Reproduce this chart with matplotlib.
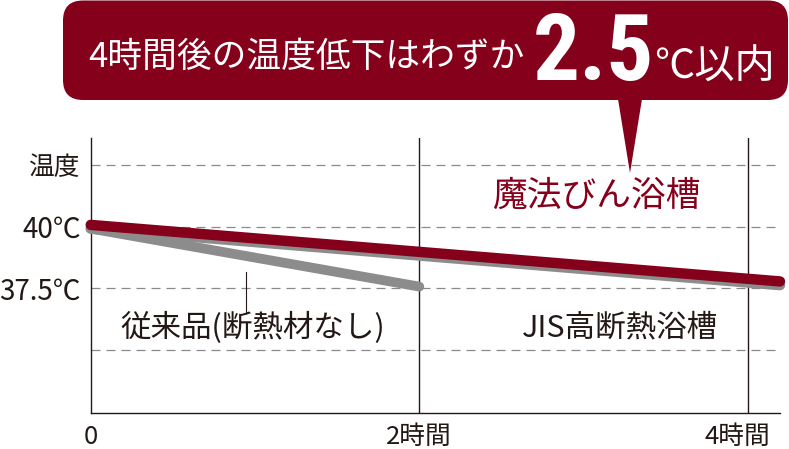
import matplotlib.pyplot as plt
from matplotlib import font_manager
from matplotlib.patches import FancyBboxPatch, Polygon
from matplotlib.transforms import ScaledTranslation

# data (hours, deg C)
hours_jis = [0, 4.195]
temp_jis = [39.92, 37.63]
hours_maho = [0, 4.195]
temp_maho = [40.07, 37.78]
hours_old = [0, 2]
temp_old = [39.92, 37.57]

grid_temps = [42.5, 40, 37.5, 35]
ytick_vals = [42.5, 40, 37.5]
ytick_labels = ['温度', '40℃', '37.5℃']
xtick_vals = [0, 2, 4]
xtick_labels = ['0', '2時間', '4時間']

RED = '#85001b'
GRAY = '#8c8c8c'
INK = '#231815'

names = {f.name for f in font_manager.fontManager.ttflist}
JP = 'Noto Sans CJK JP'
NARROW = next((n for n in ['Liberation Sans Narrow', 'Roboto Condensed', 'Open Sans Condensed']
               if n in names), 'Liberation Sans')

plt.rcParams['font.family'] = [JP, 'DejaVu Sans']
plt.rcParams['lines.scale_dashes'] = False

fig = plt.figure(figsize=(7.89, 4.49), dpi=100)
ax = fig.add_axes([90.7 / 789, 36 / 449, 689.3 / 789, 275 / 449])
ax.set_xlim(0, 4.195)
ax.set_ylim(32.45, 43.59)

for g in grid_temps:
    ax.axhline(g, color='#8a8a8a', lw=0.9, dashes=(6.5, 4.3), zorder=1)
for x in xtick_vals[1:]:
    ax.axvline(x, color=INK, lw=1.0, zorder=1)

for s in ['top', 'right']:
    ax.spines[s].set_visible(False)
for s in ['left', 'bottom']:
    ax.spines[s].set_color(INK)
    ax.spines[s].set_linewidth(1.0)

# lines
ax.plot(hours_jis, temp_jis, color=GRAY, lw=7.5, solid_capstyle='round', clip_on=False, zorder=3)
ax.plot(hours_old, temp_old, color=GRAY, lw=7.0, solid_capstyle='round', clip_on=False, zorder=3)
ax.plot(hours_maho, temp_maho, color=RED, lw=7.5, solid_capstyle='round', clip_on=False, zorder=4)

# leader for the conventional line
ax.plot([0.948, 0.948], [38.17, 36.55], color=INK, lw=0.8, zorder=2)

ax.text(3.085, 41.24, '魔法びん浴槽', color=RED, fontsize=25, ha='center', va='center')
ax.text(3.222, 35.9, 'JIS高断熱浴槽', color=INK, fontsize=22, ha='center', va='center')
ax.text(0.985, 35.9, '従来品(断熱材なし)', color=INK, fontsize=22, ha='center', va='center')

ax.set_yticks(ytick_vals, ytick_labels)
ax.set_xticks(xtick_vals, xtick_labels)
ax.tick_params(axis='y', length=0, pad=7, colors=INK)
ax.tick_params(axis='x', length=0, pad=8, colors=INK)
for lab in ax.get_yticklabels():
    lab.set_fontsize(18.5 if lab.get_text() == '温度' else 20)
for lab in ax.get_xticklabels():
    lab.set_fontsize(18.5)
    if lab.get_text() == '4時間':
        lab.set_transform(lab.get_transform() + ScaledTranslation(-11 / 100, 0, fig.dpi_scale_trans))

# callout in pixel coordinates
ov = fig.add_axes([0, 0, 1, 1])
ov.set_xlim(0, 789)
ov.set_ylim(449, 0)
ov.axis('off')
ov.patch.set_visible(False)

ov.add_patch(FancyBboxPatch((63, 0.5), 725, 99.5, boxstyle='round,pad=0,rounding_size=20',
                            fc=RED, ec='none'))
ov.add_patch(Polygon([(618, 99), (642, 99), (630, 173)], closed=True, fc=RED, ec='none'))
ov.text(88, 66.5, '4時間後の温度低下はわずか', color='white', fontsize=25, ha='left', va='baseline')
ov.text(533, 80, '2.5', color='white', fontsize=67, fontweight='bold', family=NARROW,
        ha='left', va='baseline')
ov.text(654, 79, '℃以内', color='white', fontsize=29, ha='left', va='baseline')

fig.savefig('out.png', dpi=100)
